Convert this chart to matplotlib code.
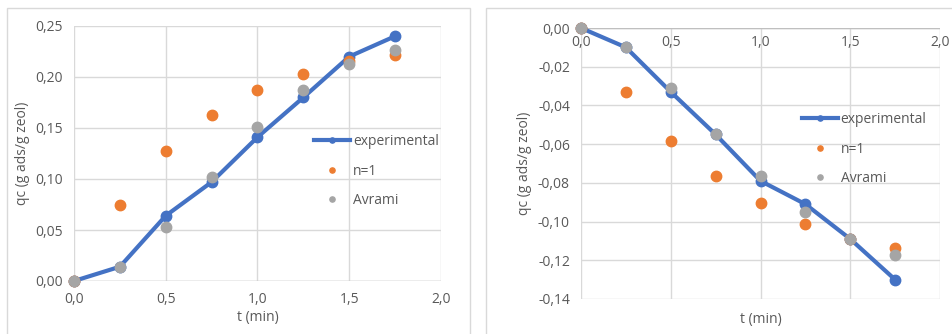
import matplotlib
matplotlib.use("Agg")
import matplotlib.pyplot as plt
from matplotlib.patches import Rectangle
from matplotlib.ticker import FuncFormatter, MultipleLocator

plt.rcParams['font.family'] = ['Open Sans', 'DejaVu Sans']

t = [0.0, 0.25, 0.5, 0.75, 1.0, 1.25, 1.5, 1.75]

# Left panel
exp_left = [0.0, 0.014, 0.064, 0.097, 0.141, 0.180, 0.220, 0.240]
n1_left = [0.0, 0.075, 0.127, 0.163, 0.187, 0.203, 0.216, 0.222]
avr_left = [0.0, 0.014, 0.053, 0.102, 0.151, 0.187, 0.213, 0.226]

# Right panel
exp_right = [0.0, -0.010, -0.033, -0.055, -0.079, -0.091, -0.109, -0.130]
n1_right = [0.0, -0.033, -0.0585, -0.0765, -0.0905, -0.101, -0.109, -0.1135]
avr_right = [0.0, -0.010, -0.031, -0.0548, -0.0766, -0.095, -0.109, -0.1175]

labels = ["experimental", "n=1", "Avrami"]
xlabel = "t (min)"
ylabel = "qc (g ads/g zeol)"

BLUE = "#4472C4"
ORANGE = "#ED7D31"
GRAY = "#A5A5A5"
TXT = "#595959"
GRID = "#D9D9D9"

W, H = 953, 334
fig = plt.figure(figsize=(W / 100, H / 100), dpi=100)
fig.patch.set_facecolor("white")

# panel borders
fig.patches.append(Rectangle((7 / W, -0.02), (470 - 7) / W, (334 - 8) / H + 0.02,
                             transform=fig.transFigure, fill=False, ec=GRID, lw=1))
fig.patches.append(Rectangle((486 / W, -0.02), (953 - 486) / W, (334 - 8) / H + 0.02,
                             transform=fig.transFigure, fill=False, ec=GRID, lw=1))

def comma(dec):
    return FuncFormatter(lambda v, p: f"{v:.{dec}f}".replace(".", ","))

def setup(ax):
    for s in ax.spines.values():
        s.set_visible(False)
    ax.grid(True, color=GRID, lw=1)
    ax.set_axisbelow(True)
    ax.tick_params(length=0, labelsize=10, colors=TXT)
    ax.xaxis.set_major_formatter(comma(1))
    ax.yaxis.set_major_formatter(comma(2))
    ax.xaxis.set_major_locator(MultipleLocator(0.5))
    ax.set_xlim(0, 2.0)

def plot(ax, e, n, a):
    ax.plot(t, e, color=BLUE, lw=3, marker="o", ms=7.5, label=labels[0], zorder=3,
            clip_on=False)
    ax.plot(t, n, ls="none", color=ORANGE, marker="o", ms=7.5, label=labels[1], zorder=4,
            clip_on=False)
    ax.plot(t, a, ls="none", color=GRAY, marker="o", ms=7.5, label=labels[2], zorder=5,
            clip_on=False)

# Left axes
axL = fig.add_axes([74 / W, (H - 281) / H, (441 - 74) / W, (281 - 26) / H])
setup(axL)
axL.set_ylim(0, 0.25)
axL.yaxis.set_major_locator(MultipleLocator(0.05))
axL.axhline(0, color="#BFBFBF", lw=1, zorder=1)
plot(axL, exp_left, n1_left, avr_left)
axL.tick_params(axis="x", pad=8)
axL.tick_params(axis="y", pad=8)
axL.set_xlabel(xlabel, color=TXT, fontsize=10, labelpad=2)
axL.set_ylabel(ylabel, color=TXT, fontsize=10, labelpad=4)
axL.legend(loc="center left", bbox_to_anchor=(0.62, 0.431), frameon=False,
           markerscale=0.5, fontsize=10, labelcolor=TXT, handlelength=2.6,
           handletextpad=0.2, labelspacing=1.05)

# Right axes
axR = fig.add_axes([581 / W, (H - 299) / H, (940 - 581) / W, (299 - 28) / H])
setup(axR)
axR.set_ylim(-0.14, 0.0)
axR.yaxis.set_major_locator(MultipleLocator(0.02))
axR.axhline(0, color="#BFBFBF", lw=1, zorder=1)
axR.spines["bottom"].set_position(("data", 0))
plot(axR, exp_right, n1_right, avr_right)
axR.tick_params(axis="x", pad=5)
axR.tick_params(axis="y", pad=8)
axR.text(0.5, -0.075, xlabel, transform=axR.transAxes, ha="center", va="center",
         color=TXT, fontsize=10)
axR.set_ylabel(ylabel, color=TXT, fontsize=10, labelpad=4)
axR.legend(loc="center left", bbox_to_anchor=(0.58, 0.553), frameon=False,
           markerscale=0.5, fontsize=10, labelcolor=TXT, handlelength=2.6,
           handletextpad=0.2, labelspacing=1.05)

fig.savefig("out.png", dpi=100)
